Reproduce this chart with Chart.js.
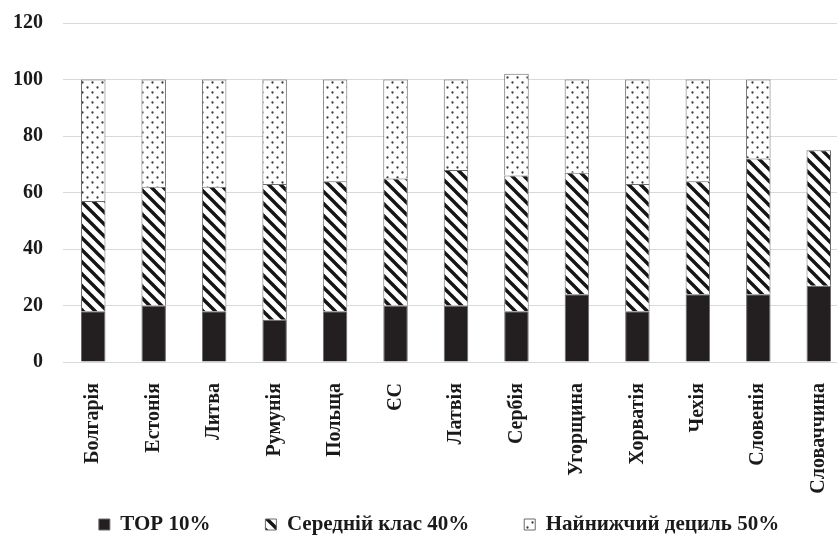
<!DOCTYPE html>
<html><head><meta charset="utf-8">
<script src="https://cdn.jsdelivr.net/npm/chart.js@4.4.1/dist/chart.umd.min.js"></script>
<style>
html,body{margin:0;padding:0;overflow:hidden;background:#fff;width:837px;height:536px;}
#wrap{position:absolute;left:0;top:0;width:878px;height:545px;}
</style>
</head><body>
<div id="wrap"><canvas id="c"></canvas></div>
<script>
const categories = ['Болгарія','Естонія','Литва','Румунія','Польща','ЄС','Латвія','Сербія','Угорщина','Хорватія','Чехія','Словенія','Словаччина'];
const top10    = [18, 20, 18, 15, 18, 20, 20, 18, 24, 18, 24, 24, 27];
const middle40 = [39, 42, 44, 48, 46, 45, 48, 48, 43, 45, 40, 48, 48];
const bottom50 = [43, 38, 38, 37, 36, 35, 32, 36, 33, 37, 36, 28, 0];
const seriesNames = ['TOP 10%', 'Середній клас 40%', 'Найнижчий дециль 50%'];
const yTicks = [0, 20, 40, 60, 80, 100, 120];

function hatchPattern() {
  const s = 12;
  const t = document.createElement('canvas');
  t.width = s; t.height = s;
  const g = t.getContext('2d');
  g.fillStyle = '#fff'; g.fillRect(0, 0, s, s);
  g.strokeStyle = '#151515'; g.lineWidth = 3.4; g.lineCap = 'square';
  for (const x0 of [-s, 0, s]) {
    g.beginPath(); g.moveTo(x0, 0); g.lineTo(x0 + s, s); g.stroke();
  }
  return g.createPattern(t, 'repeat');
}
function dotPattern() {
  const w = 10, h = 10;
  const t = document.createElement('canvas');
  t.width = w; t.height = h;
  const g = t.getContext('2d');
  g.fillStyle = '#fff'; g.fillRect(0, 0, w, h);
  g.fillStyle = '#3a3a3a';
  g.beginPath(); g.arc(2.5, 2.5, 1.15, 0, Math.PI * 2); g.fill();
  g.beginPath(); g.arc(7.5, 7.5, 1.15, 0, Math.PI * 2); g.fill();
  return g.createPattern(t, 'repeat');
}

const serif = '"Liberation Serif", "Times New Roman", serif';
const tickFont = { family: serif, size: 20, weight: 'bold' };
const labelFont = { family: serif, size: 20, weight: 'bold' };
const legendFont = { family: serif, size: 21, weight: 'bold' };
const ink = '#1a1a1a';
const edge = '#6a6a6a';

new Chart(document.getElementById('c'), {
  type: 'bar',
  data: {
    labels: categories,
    datasets: [
      { label: seriesNames[0], data: top10, backgroundColor: '#231f20', borderColor: edge, borderWidth: 1, yAxisID: 'y' },
      { label: seriesNames[1], data: middle40, backgroundColor: hatchPattern(), borderColor: edge, borderWidth: 1, yAxisID: 'y' },
      { label: seriesNames[2], data: bottom50, backgroundColor: dotPattern(), borderColor: edge, borderWidth: 1, yAxisID: 'y' }
    ]
  },
  options: {
    responsive: true,
    maintainAspectRatio: false,
    animation: false,
    events: [],
    layout: { padding: { top: 23, left: 0, right: 0, bottom: 0 } },
    datasets: { bar: { categoryPercentage: 1, barPercentage: 0.405 } },
    plugins: {
      tooltip: { enabled: false },
      legend: {
        position: 'bottom',
        labels: { font: legendFont, color: ink, boxWidth: 11, boxHeight: 11, padding: 55 }
      }
    },
    scales: {
      x: {
        stacked: true,
        grid: { display: false },
        border: { display: true, color: '#d9d9d9', width: 1 },
        ticks: { font: labelFont, color: ink, minRotation: 90, maxRotation: 90, autoSkip: false, padding: 13 },
        afterFit(s) {
          s.height = 97;
          s._computeLabelArea = function () { return undefined; };
        }
      },
      y: {
        stacked: true,
        min: 0, max: 120,
        afterBuildTicks(s) { s.ticks = yTicks.map(v => ({ value: v })); },
        grid: { color: '#d9d9d9', lineWidth: 1, drawTicks: false },
        border: { display: false },
        ticks: { font: tickFont, color: ink, padding: 20 },
        afterFit(s) { s.width = 63; s.paddingTop = 0; s.paddingBottom = 0; }
      },
      yR: {
        position: 'right',
        display: true,
        grid: { display: false },
        border: { display: false },
        ticks: { display: false },
        afterFit(s) { s.width = 29; s.paddingTop = 0; s.paddingBottom = 0; }
      }
    }
  }
});
</script>
</body></html>
